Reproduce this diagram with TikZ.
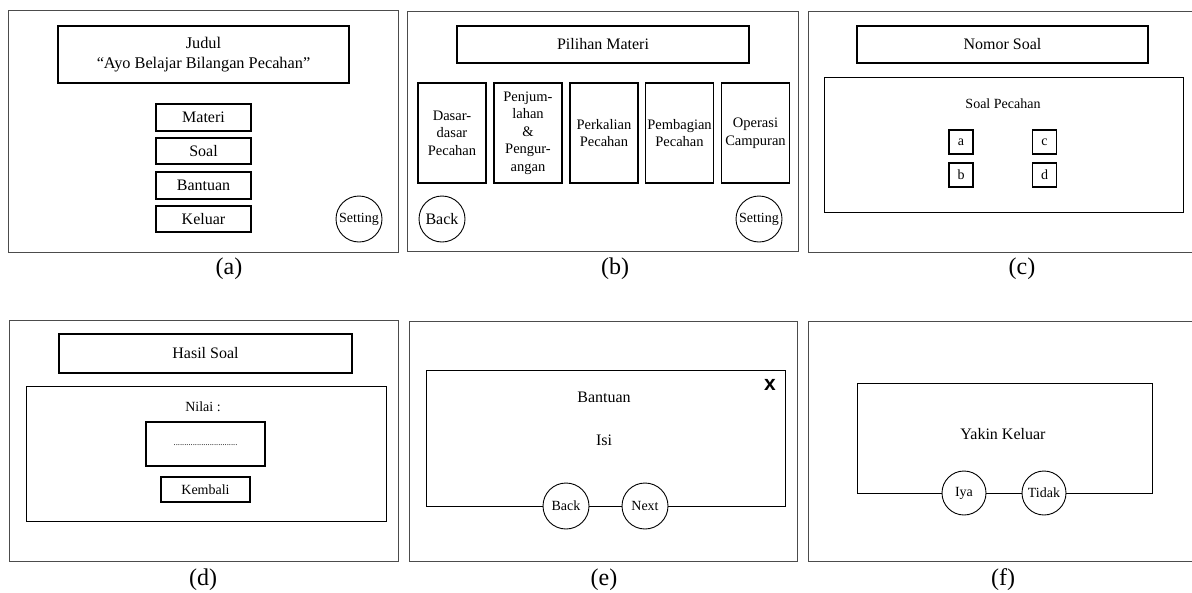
\documentclass[tikz,border=0pt]{standalone}
\usepackage{fontspec}
\setmainfont{Liberation Serif}
\newfontfamily\xfont{Liberation Sans}
\newcommand{\fs}[1]{\fontsize{#1}{#1}\selectfont}
\newcommand{\fsl}[2]{\fontsize{#1}{#2}\selectfont}
\begin{document}
\begin{tikzpicture}[x=1pt,y=-1pt,
  panel/.style={draw=black!70,line width=0.9pt},
  box/.style={draw=black,line width=1.2pt,inner sep=0pt,outer sep=0pt,align=center},
  btn/.style={draw=black,line width=0.9pt,circle,fill=white,inner sep=0pt,outer sep=0pt},
  caption/.style={font=\fs{24}},
  t16/.style={font=\fs{16}},
  t14/.style={font=\fs{14}}
]
\useasboundingbox (0,0) rectangle (1192,592);
\fill[white] (0,0) rectangle (1192,592);

% ---------- (a)
\node[panel,minimum width=390pt,minimum height=242pt,inner sep=0pt] (pa) at (203,131) {};
\node[box,minimum width=291pt,minimum height=57pt,font=\fsl{16.3}{20}] (judul) at (203.5,54.5) {Judul\\\textquotedblleft Ayo Belajar Bilangan Pecahan\textquotedblright};
\node[box,t16,minimum width=95pt,minimum height=27pt] (materi) at (203.5,117.5) {Materi};
\node[box,t16,minimum width=95pt,minimum height=26pt] (soal) at (203.5,151) {Soal};
\node[box,t16,minimum width=95pt,minimum height=27pt] (bantuan) at (203.5,185.5) {Bantuan};
\node[box,t16,minimum width=95pt,minimum height=26pt] (keluar) at (203.5,219) {Keluar};
\node[btn,t14,minimum size=46pt] (setA) at (359,219) {Setting};
\node[caption] (capa) at (229,269) {(a)};

% ---------- (b)
\node[panel,minimum width=391pt,minimum height=240pt,inner sep=0pt] (pb) at (602.5,131) {};
\node[box,t16,minimum width=292pt,minimum height=37pt] (pilihan) at (603,44.5) {Pilihan Materi};
\tikzset{mbox/.style={box,font=\fsl{14.5}{17.5},minimum width=68pt,minimum height=100pt}}
\node[mbox] (m1) at (452,133) {Dasar-\\dasar\\Pecahan};
\node[mbox] (m2) at (528,133) {Penjum-\\lahan\\\&\\Pengur-\\angan};
\node[mbox] (m3) at (604,133) {Perkalian\\Pecahan};
\node[mbox] (m4) at (679.5,133) {Pembagian\\Pecahan};
\node[mbox] (m5) at (755.5,133) {Operasi\\Campuran};
\node[btn,t16,minimum size=46pt] (backB) at (442,219) {Back};
\node[btn,t14,minimum size=46pt] (setB) at (759,219) {Setting};
\node[caption] (capb) at (615,269) {(b)};

% ---------- (c)
\coordinate (pc1) at (1192,11);
\coordinate (pc2) at (808,252);
\draw[panel] (pc1) -| (pc2) -- (pc2 -| pc1);
\node[box,t16,minimum width=291pt,minimum height=37pt] (nomor) at (1002.5,44.5) {Nomor Soal};
\node[box,minimum width=359pt,minimum height=135pt,line width=1pt] (soalbox) at (1003.5,144.5) {};
\node[t14] (soalpec) at (1003,104) {Soal Pecahan};
\node[box,t14,minimum width=24pt,minimum height=24pt] (oa) at (961,142) {a};
\node[box,t14,minimum width=24pt,minimum height=24pt] (oc) at (1044.5,142) {c};
\node[box,t14,minimum width=24pt,minimum height=24pt] (ob) at (961,175) {b};
\node[box,t14,minimum width=24pt,minimum height=24pt] (od) at (1044.5,175) {d};
\node[caption] (capc) at (1022,269) {(c)};

% ---------- (d)
\node[panel,minimum width=389pt,minimum height=241pt,inner sep=0pt] (pd) at (203.5,440.5) {};
\node[box,t16,minimum width=293pt,minimum height=39pt] (hasil) at (205.5,353.5) {Hasil Soal};
\node[box,minimum width=360pt,minimum height=135pt,line width=1pt] (nilaibox) at (206,453.5) {};
\node[t14] (nilai) at (203,407) {Nilai :};
\node[box,minimum width=119pt,minimum height=44pt] (valbox) at (205.5,444) {};
\node[font=\fs{8.5}] (dots) at (205.5,445) {..............................};
\node[box,t14,minimum width=89pt,minimum height=25pt] (kembali) at (205.5,489.5) {Kembali};
\node[caption] (capd) at (203,580) {(d)};

% ---------- (e)
\node[panel,minimum width=388pt,minimum height=240pt,inner sep=0pt] (pe) at (603,441) {};
\node[box,minimum width=359pt,minimum height=136pt,line width=1pt] (bantbox) at (605.5,438) {};
\node[t16] (banttxt) at (604,397) {Bantuan};
\node[t16] (isi) at (604,440) {Isi};
\node[font=\xfont\bfseries\fs{21}] (close) at (770,385) {x};
\node[btn,t14,minimum size=46pt] (backE) at (566,506) {Back};
\node[btn,t14,minimum size=46pt] (nextE) at (645,506) {Next};
\node[caption] (cape) at (604,580) {(e)};

% ---------- (f)
\coordinate (pf1) at (1192,321);
\coordinate (pf2) at (808,561);
\draw[panel] (pf1) -| (pf2) -- (pf2 -| pf1);
\node[box,minimum width=295pt,minimum height=110pt,line width=1pt] (yakinbox) at (1004.5,438) {};
\node[t16] (yakin) at (1003,434) {Yakin Keluar};
\node[btn,t14,minimum size=44pt] (iya) at (964,493) {Iya};
\node[btn,t14,minimum size=44pt] (tidak) at (1044,493) {Tidak};
\node[caption] (capf) at (1003,580) {(f)};
\end{tikzpicture}
\end{document}
